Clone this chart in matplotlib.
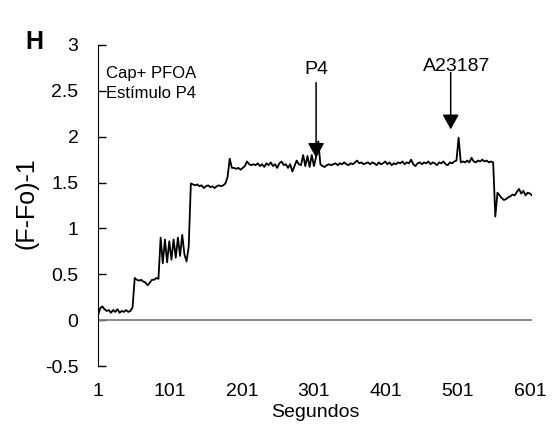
import numpy as np
import matplotlib
matplotlib.use("Agg")
import matplotlib.pyplot as plt

plt.rcParams["font.family"] = ["Liberation Sans", "DejaVu Sans"]

# Time axis (seconds), one reading every 3 s
seconds = np.arange(1, 605, 3)

# (F-Fo)-1 readings, split by phase of the recording
baseline = [0.05, 0.13, 0.15, 0.12, 0.10, 0.11, 0.08, 0.11, 0.09, 0.12,
            0.08, 0.10, 0.09, 0.11, 0.09, 0.10, 0.14]
step1 = [0.46, 0.44, 0.43, 0.44, 0.42, 0.41, 0.38, 0.41, 0.44, 0.44,
         0.46, 0.45]
oscill = [0.90, 0.62, 0.88, 0.63, 0.86, 0.66, 0.88, 0.68, 0.90, 0.70,
          0.93, 0.72, 0.64, 0.80]
step2 = [1.49, 1.48, 1.47, 1.48, 1.46, 1.47, 1.44, 1.46, 1.47, 1.45,
         1.46, 1.44, 1.46, 1.47, 1.46, 1.47, 1.49, 1.56]
plateau = [1.76, 1.66, 1.66, 1.65, 1.66, 1.64, 1.66, 1.68, 1.73, 1.70,
           1.69, 1.70, 1.69, 1.71, 1.68, 1.70, 1.67, 1.71, 1.69, 1.72,
           1.68, 1.70, 1.66, 1.71, 1.73, 1.69, 1.70, 1.66, 1.70, 1.62,
           1.68, 1.74, 1.70, 1.69, 1.80, 1.68, 1.79, 1.67, 1.80, 1.68,
           1.78, 1.95]
after_p4 = [1.70, 1.68, 1.67, 1.69, 1.70, 1.69, 1.70, 1.71, 1.69, 1.71,
            1.70, 1.72, 1.70, 1.69, 1.71, 1.70, 1.72, 1.74, 1.71, 1.72,
            1.70, 1.71, 1.72, 1.70, 1.72, 1.71, 1.69, 1.72, 1.70, 1.71,
            1.73, 1.70, 1.72, 1.69, 1.71, 1.70, 1.72, 1.71, 1.73, 1.70,
            1.72, 1.71, 1.75, 1.70, 1.68, 1.71, 1.72, 1.70, 1.72, 1.71,
            1.73, 1.70, 1.72, 1.71, 1.69, 1.72, 1.71, 1.73, 1.70, 1.69,
            1.72, 1.71, 1.73, 1.74]
after_a23187 = [1.99, 1.72, 1.73, 1.72, 1.74, 1.72, 1.77, 1.73, 1.72, 1.74,
                1.73, 1.75, 1.73, 1.74, 1.72, 1.73, 1.72]
final = [1.13, 1.39, 1.36, 1.33, 1.31, 1.32, 1.34, 1.35, 1.37, 1.36,
         1.40, 1.43, 1.38, 1.41, 1.36, 1.39, 1.38, 1.36]

signal = baseline + step1 + oscill + step2 + plateau + after_p4 + after_a23187 + final

y_ticks = [-0.5, 0, 0.5, 1, 1.5, 2, 2.5, 3]
y_labels = ["-0.5", "0", "0.5", "1", "1.5", "2", "2.5", "3"]
x_ticks = [1, 101, 201, 301, 401, 501, 601]

fig = plt.figure(figsize=(5.55, 4.45), dpi=100)
ax = fig.add_axes([0.1766, 0.1775, 0.782, 0.7214])

ax.plot(seconds, signal, color="black", linewidth=1.3)
ax.axhline(0, color="#808080", linewidth=1.3)

ax.set_xlim(1, 604)
ax.set_ylim(-0.5, 3)
for side in ["top", "right", "bottom"]:
    ax.spines[side].set_visible(False)
ax.spines["left"].set_color("black")

ax.set_yticks(y_ticks)
ax.set_yticklabels(y_labels)
ax.set_xticks(x_ticks)
ax.tick_params(axis="y", direction="in", length=6, width=1, pad=14, labelsize=14)
ax.tick_params(axis="x", length=0, pad=12, labelsize=14)

ax.set_xlabel("Segundos", fontsize=14, labelpad=3)
fig.text(27 / 555, 1 - 203 / 445, "(F-Fo)-1", rotation=90, fontsize=18,
         ha="center", va="center")
fig.text(34 / 555, 1 - 42 / 445, "H", fontsize=18, fontweight="bold",
         ha="center", va="center")

ax.text(12, 2.69, "Cap+ PFOA", fontsize=12, va="center", ha="left")
ax.text(12, 2.47, "Estímulo P4", fontsize=12, va="center", ha="left")

arrow = dict(arrowstyle="-|>,head_length=0.9,head_width=0.5", color="black",
             lw=1.1, shrinkA=0, shrinkB=0)
ax.annotate("", xy=(304, 1.77), xytext=(304, 2.59), arrowprops=arrow)
ax.text(304, 2.73, "P4", fontsize=14, ha="center", va="center")
ax.annotate("", xy=(491, 2.08), xytext=(491, 2.70), arrowprops=arrow)
ax.text(499, 2.77, "A23187", fontsize=14, ha="center", va="center")

fig.savefig("out.png", dpi=100)
